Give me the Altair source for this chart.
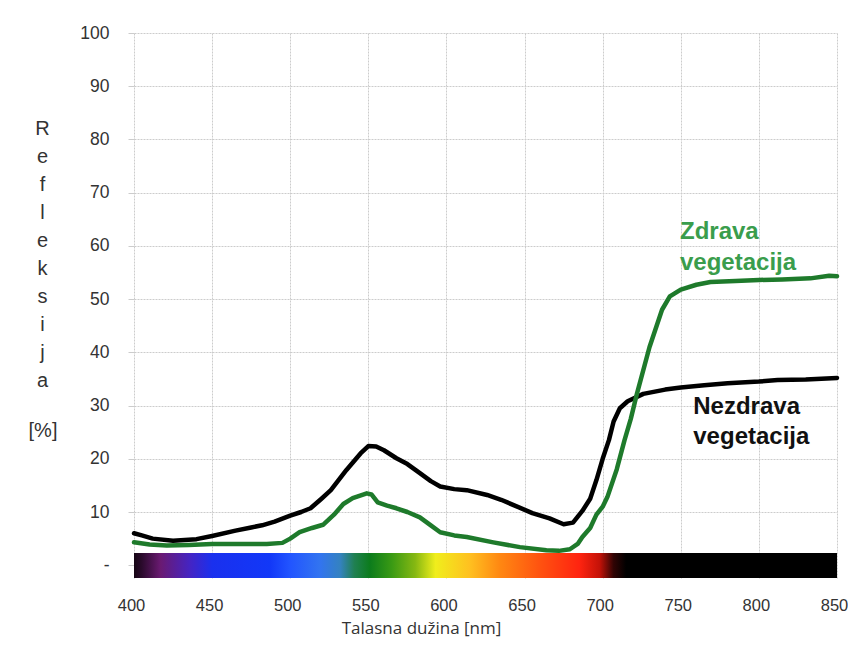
import altair as alt
import pandas as pd

# ---- data ----
nez_wl = [400, 405, 412, 425, 440, 450, 465, 475, 482, 490, 500, 507, 513, 520, 526, 536, 545, 550,
          555, 560, 568, 575, 583, 590, 596, 605, 613, 626, 635, 643, 655, 666, 675, 681, 687, 692,
          696, 700, 704, 707, 711, 716, 726, 740, 750, 765, 780, 800, 812, 830, 850]
nez_val = [6.0, 5.6, 5.0, 4.6, 4.9, 5.5, 6.5, 7.1, 7.5, 8.2, 9.3, 10.0, 10.7, 12.5, 14.1, 17.9, 21.0, 22.4,
           22.3, 21.6, 20.1, 19.0, 17.3, 15.8, 14.8, 14.3, 14.1, 13.2, 12.3, 11.3, 9.8, 8.8, 7.7, 8.0, 10.2, 12.5,
           16.0, 20.0, 23.5, 27.0, 29.5, 30.8, 32.2, 33.0, 33.4, 33.8, 34.2, 34.5, 34.8, 34.9, 35.2]

zdr_wl = [400, 410, 421, 435, 450, 470, 485, 495, 500, 506, 514, 521, 528, 534, 540, 549, 552, 556,
          562, 568, 575, 583, 590, 596, 605, 613, 630, 647, 664, 672, 679, 684, 687, 692, 696, 700,
          703, 709, 714, 718, 722, 730, 738, 743, 750, 760, 769, 785, 800, 815, 833, 845, 850]
zdr_val = [4.3, 3.9, 3.7, 3.8, 4.0, 4.0, 4.0, 4.2, 5.0, 6.2, 7.0, 7.6, 9.5, 11.5, 12.6, 13.5, 13.3, 11.8,
           11.2, 10.7, 10.0, 9.0, 7.5, 6.2, 5.6, 5.3, 4.3, 3.4, 2.8, 2.7, 3.0, 4.0, 5.3, 7.0, 9.5, 11.0,
           12.8, 18.0, 23.5, 27.5, 32.3, 41.0, 48.0, 50.5, 51.8, 52.7, 53.2, 53.4, 53.6, 53.7, 53.9, 54.4, 54.3]

x_ticks = [400, 450, 500, 550, 600, 650, 700, 750, 800, 850]
y_ticks = [0, 10, 20, 30, 40, 50, 60, 70, 80, 90, 100]

# visible spectrum band under the curves
band_x = [400]
band_x2 = [850]
band_y = [-2.4]
band_y2 = [2.3]
spec_wl = [400, 405, 417, 436, 450, 487, 500, 519, 532, 541, 551, 565, 580, 593, 615, 634, 660, 685, 698, 707, 715, 850]
spec_col = ["#160614", "#2a0a2c", "#6a1a72", "#4424c4", "#1a30ee", "#1238f8", "#2255ff", "#3274f0",
            "#3482c0", "#208052", "#0c7c1c", "#3a9a14", "#86b812", "#f0ee1c", "#ffc020", "#ff8812",
            "#ff5210", "#ff2410", "#c41208", "#300404", "#000000", "#000000"]

ann_text = ["Zdrava", "vegetacija", "Nezdrava", "vegetacija"]
ann_x = [749.5, 749.5, 758.0, 758.0]
ann_y = [61.3, 55.5, 28.4, 22.7]
ann_col = ["#3a9d4c", "#3a9d4c", "#111111", "#111111"]

df = pd.concat([
    pd.DataFrame({"wl": nez_wl, "r": nez_val, "s": "Nezdrava vegetacija"}),
    pd.DataFrame({"wl": zdr_wl, "r": zdr_val, "s": "Zdrava vegetacija"}),
])
band = pd.DataFrame({"x": band_x, "x2": band_x2, "y": band_y, "y2": band_y2})
ann = pd.DataFrame({"t": ann_text, "x": ann_x, "y": ann_y, "c": ann_col})
pct = pd.DataFrame({"t": ["[%]"], "x": [400], "y": [25.2]})

xs = alt.Scale(domain=[400, 850], nice=False, zero=False)
ys = alt.Scale(domain=[-2.4, 100], nice=False, zero=False)

FONT = "Liberation Sans"

xaxis = alt.Axis(values=x_ticks, grid=True, gridColor="#cccccc", gridDash=[2, 1], domain=False,
                 ticks=False, labelPadding=19, labelFontSize=16.5, labelColor="#333333", labelFont=FONT,
                 labelFlush=False, labelOverlap=False, labelOffset=-3,
                 title="Talasna dužina [nm]", titleFont="Open Sans", titleFontSize=17,
                 titleFontWeight="normal", titleColor="#333333", titleX=287, titleY=50,
                 titleBaseline="middle", titleAlign="center", titleAnchor="start")
yaxis = alt.Axis(values=y_ticks, grid=True, gridColor="#cccccc", gridDash=[2, 1], domain=False,
                 ticks=True, tickSize=6, tickColor="#cccccc", labelFlush=False, labelOverlap=False,
                 labelExpr="datum.value == 0 ? '-\u00a0\u00a0\u00a0' : datum.label",
                 labelPadding=19, labelFontSize=17.5, labelColor="#333333", labelFont=FONT,
                 title=["R", "e", "f", "l", "e", "k", "s", "i", "j", "a"],
                 titleAngle=0, titleFont=FONT, titleFontSize=20, titleFontWeight="normal",
                 titleColor="#333333", titleLineHeight=28, titleX=-92, titleY=85,
                 titleAlign="center", titleBaseline="top", titleAnchor="start")

grad = alt.LinearGradient(
    gradient="linear", x1=0, x2=1, y1=0, y2=0,
    stops=[alt.GradientStop(offset=(w - 400) / 450, color=c) for w, c in zip(spec_wl, spec_col)],
)

spectrum = alt.Chart(band).mark_rect(color=grad).encode(
    x=alt.X("x:Q", scale=xs, axis=xaxis),
    x2="x2:Q",
    y=alt.Y("y:Q", scale=ys, axis=yaxis),
    y2="y2:Q",
)

lines = alt.Chart(df).mark_line(strokeWidth=4.5, strokeJoin="round", strokeCap="round").encode(
    x=alt.X("wl:Q", scale=xs),
    y=alt.Y("r:Q", scale=ys),
    color=alt.Color("s:N", scale=alt.Scale(domain=["Nezdrava vegetacija", "Zdrava vegetacija"],
                                           range=["#000000", "#1e7a2b"]), legend=None),
    order=alt.Order("wl:Q"),
)

labels = alt.Chart(ann).mark_text(align="left", baseline="alphabetic", font=FONT, fontSize=24,
                                  fontWeight="bold").encode(
    x=alt.X("x:Q", scale=xs),
    y=alt.Y("y:Q", scale=ys),
    text="t:N",
    color=alt.Color("c:N", scale=None),
)

pct_label = alt.Chart(pct).mark_text(align="center", baseline="middle", font=FONT, fontSize=20,
                                     color="#333333", dx=-91).encode(
    x=alt.X("x:Q", scale=xs),
    y=alt.Y("y:Q", scale=ys),
    text="t:N",
)

chart = alt.layer(spectrum, lines, labels, pct_label).properties(
    width=703, height=545,
    autosize=alt.AutoSizeParams(type="none"),
    padding={"left": 126, "top": 25, "right": 11, "bottom": 63},
    background="white",
).configure_view(stroke=None)

chart.save("out.html", embed_options={"renderer": "svg", "actions": False})
